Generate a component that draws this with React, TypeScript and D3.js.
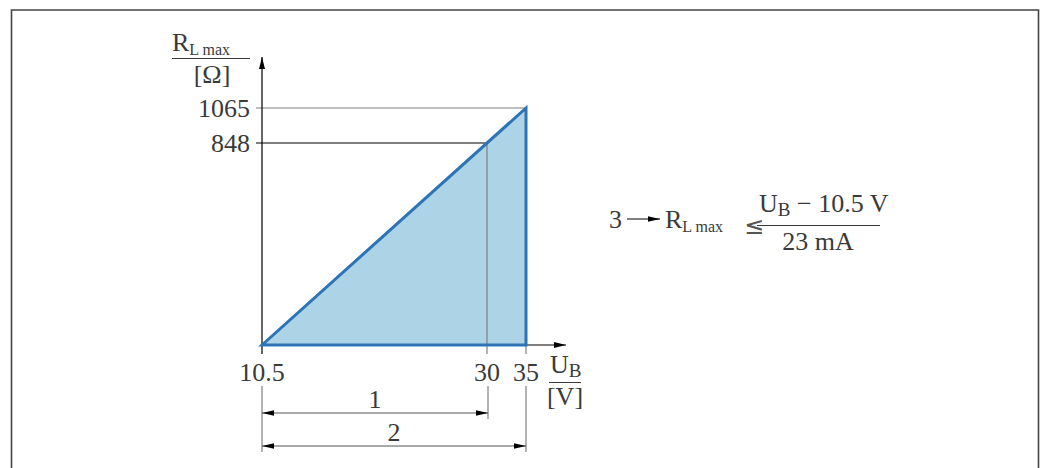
import { useRef, useEffect } from "react"
import * as d3 from "d3"

// schematic axis stops (the drawing is not to scale, so the scales are piecewise)
const uStops = [10.5, 30, 35]
const rStops = [0, 848, 1065]
const xTicks = ["10.5", "30", "35"]
const yTicks = ["848", "1065"]

// load line: R_L max grows from 0 at 10.5 V to 1065 Ω at 35 V
const loadLine = [
  { u: 10.5, r: 0 },
  { u: 35, r: 1065 },
  { u: 35, r: 0 },
]

// dimension arrows under the axis
const dims = [
  { label: "1", from: 10.5, to: 30 },
  { label: "2", from: 10.5, to: 35 },
]

const FONT = "'Liberation Serif', serif"
const TEXT = "#3a3a3a"
const BIG = "26px"
const SUB = "16px"

const App = () => {
  const svgRef = useRef<SVGSVGElement>(null)

  useEffect(() => {
    const svg = d3.select(svgRef.current)
    svg.selectAll("*").remove()

    const x = d3.scaleLinear().domain(uStops).range([262, 487, 526])
    const y = d3.scaleLinear().domain(rStops).range([345, 143, 108])

    // arrow markers
    const defs = svg.append("defs")
    defs
      .append("marker")
      .attr("id", "axisHead")
      .attr("viewBox", "0 0 12 8")
      .attr("refX", 12)
      .attr("refY", 4)
      .attr("markerWidth", 12)
      .attr("markerHeight", 8)
      .attr("markerUnits", "userSpaceOnUse")
      .attr("orient", "auto")
      .append("path")
      .attr("d", "M0,1 L12,4 L0,7 Z")
      .attr("fill", "#000")
    defs
      .append("marker")
      .attr("id", "dimHead")
      .attr("viewBox", "0 0 12 8")
      .attr("refX", 12)
      .attr("refY", 4)
      .attr("markerWidth", 12)
      .attr("markerHeight", 8)
      .attr("markerUnits", "userSpaceOnUse")
      .attr("orient", "auto-start-reverse")
      .append("path")
      .attr("d", "M0,1.2 L12,4 L0,6.8 Z")
      .attr("fill", "#000")

    // frame
    svg
      .append("path")
      .attr("d", "M11.5,480 V10 H1038.5 V480")
      .attr("fill", "none")
      .attr("stroke", "#444")
      .attr("stroke-width", 1.6)

    // filled area
    const area = d3
      .line<{ u: number; r: number }>()
      .x((d) => x(d.u))
      .y((d) => y(d.r))
    svg
      .append("path")
      .attr("d", area(loadLine) + "Z")
      .attr("fill", "#acd3e6")
      .attr("stroke", "none")

    // reference lines
    svg
      .append("line")
      .attr("x1", 256)
      .attr("x2", x(35))
      .attr("y1", y(1065))
      .attr("y2", y(1065))
      .attr("stroke", "#808080")
      .attr("stroke-width", 1.2)
    svg
      .append("line")
      .attr("x1", 256)
      .attr("x2", x(30))
      .attr("y1", y(848))
      .attr("y2", y(848))
      .attr("stroke", "#000")
      .attr("stroke-width", 1.2)
    svg
      .append("line")
      .attr("x1", x(30))
      .attr("x2", x(30))
      .attr("y1", y(848))
      .attr("y2", 354)
      .attr("stroke", "#808080")
      .attr("stroke-width", 1.2)

    // axes
    svg
      .append("line")
      .attr("x1", x(10.5))
      .attr("x2", x(10.5))
      .attr("y1", 354)
      .attr("y2", 57)
      .attr("stroke", "#000")
      .attr("stroke-width", 1.2)
      .attr("marker-end", "url(#axisHead)")
    svg
      .append("line")
      .attr("x1", x(10.5))
      .attr("x2", 566)
      .attr("y1", y(0))
      .attr("y2", y(0))
      .attr("stroke", "#000")
      .attr("stroke-width", 1.2)
      .attr("marker-end", "url(#axisHead)")
    svg
      .append("line")
      .attr("x1", x(35))
      .attr("x2", x(35))
      .attr("y1", y(0))
      .attr("y2", 354)
      .attr("stroke", "#808080")
      .attr("stroke-width", 1.2)

    // outline of the area
    svg
      .append("path")
      .attr("d", area(loadLine) + "Z")
      .attr("fill", "none")
      .attr("stroke", "#2c74b5")
      .attr("stroke-width", 3)
      .attr("stroke-linejoin", "miter")

    // tick labels
    svg
      .selectAll(".ylab")
      .data(yTicks)
      .enter()
      .append("text")
      .attr("x", 250)
      .attr("y", (d) => y(+d))
      .attr("dy", "0.34em")
      .attr("text-anchor", "end")
      .style("font-family", FONT)
      .style("font-size", BIG)
      .style("fill", TEXT)
      .text((d) => d)
    svg
      .selectAll(".xlab")
      .data(xTicks)
      .enter()
      .append("text")
      .attr("x", (d) => x(+d))
      .attr("y", 381)
      .attr("text-anchor", "middle")
      .style("font-family", FONT)
      .style("font-size", BIG)
      .style("fill", TEXT)
      .text((d) => d)

    // y axis title R_L max / [Ω]
    const yt = svg
      .append("text")
      .attr("x", 172)
      .attr("y", 51)
      .style("font-family", FONT)
      .style("fill", TEXT)
    yt.append("tspan").style("font-size", BIG).text("R")
    yt.append("tspan").attr("dy", 4).style("font-size", SUB).text("L max")
    svg
      .append("line")
      .attr("x1", 172)
      .attr("x2", 250)
      .attr("y1", 58.5)
      .attr("y2", 58.5)
      .attr("stroke", TEXT)
      .attr("stroke-width", 1)
    svg
      .append("text")
      .attr("x", 212)
      .attr("y", 83)
      .attr("text-anchor", "middle")
      .style("font-family", FONT)
      .style("font-size", BIG)
      .style("fill", TEXT)
      .text("[Ω]")

    // x axis title U_B / [V]
    const xt = svg
      .append("text")
      .attr("x", 550)
      .attr("y", 373)
      .style("font-family", FONT)
      .style("fill", TEXT)
    xt.append("tspan").style("font-size", BIG).text("U")
    xt.append("tspan").attr("dy", 4).style("font-size", "19px").text("B")
    svg
      .append("line")
      .attr("x1", 549)
      .attr("x2", 581)
      .attr("y1", 382.5)
      .attr("y2", 382.5)
      .attr("stroke", TEXT)
      .attr("stroke-width", 1)
    svg
      .append("text")
      .attr("x", 565)
      .attr("y", 405)
      .attr("text-anchor", "middle")
      .style("font-family", FONT)
      .style("font-size", BIG)
      .style("fill", TEXT)
      .text("[V]")

    // dimension lines
    const extTop = 386
    const dimY = [413, 446]
    svg
      .selectAll(".ext")
      .data([
        { u: 10.5, y2: 452 },
        { u: 30, y2: 419 },
        { u: 35, y2: 452 },
      ])
      .enter()
      .append("line")
      .attr("x1", (d) => x(d.u) + (d.u === 30 ? 1 : 0))
      .attr("x2", (d) => x(d.u) + (d.u === 30 ? 1 : 0))
      .attr("y1", extTop)
      .attr("y2", (d) => d.y2)
      .attr("stroke", "#808080")
      .attr("stroke-width", 1.2)
    dims.forEach((d, i) => {
      const x1 = x(d.from)
      const x2 = x(d.to) + (d.to === 30 ? 1 : 0)
      svg
        .append("line")
        .attr("x1", x1)
        .attr("x2", x2)
        .attr("y1", dimY[i])
        .attr("y2", dimY[i])
        .attr("stroke", "#555")
        .attr("stroke-width", 1.2)
        .attr("marker-start", "url(#dimHead)")
        .attr("marker-end", "url(#dimHead)")
      svg
        .append("text")
        .attr("x", (x1 + x2) / 2)
        .attr("y", dimY[i] - 5)
        .attr("text-anchor", "middle")
        .style("font-family", FONT)
        .style("font-size", BIG)
        .style("fill", TEXT)
        .text(d.label)
    })

    // formula callout
    svg
      .append("text")
      .attr("x", 609)
      .attr("y", 228)
      .style("font-family", FONT)
      .style("font-size", BIG)
      .style("fill", TEXT)
      .text("3")
    svg
      .append("line")
      .attr("x1", 627)
      .attr("x2", 660)
      .attr("y1", 219)
      .attr("y2", 219)
      .attr("stroke", "#000")
      .attr("stroke-width", 1.2)
      .attr("marker-end", "url(#dimHead)")
    const rl = svg
      .append("text")
      .attr("x", 665)
      .attr("y", 228)
      .style("font-family", FONT)
      .style("fill", TEXT)
    rl.append("tspan").style("font-size", BIG).text("R")
    rl.append("tspan").attr("dy", 4).style("font-size", SUB).text("L max")
    svg
      .append("text")
      .attr("x", 744)
      .attr("y", 234)
      .style("font-family", "'DejaVu Sans', sans-serif")
      .style("font-size", "24px")
      .style("fill", "#555")
      .text("≤")
    svg
      .append("line")
      .attr("x1", 757)
      .attr("x2", 880)
      .attr("y1", 225.5)
      .attr("y2", 225.5)
      .attr("stroke", TEXT)
      .attr("stroke-width", 1)
    const num = svg
      .append("text")
      .attr("x", 759)
      .attr("y", 212)
      .style("font-family", FONT)
      .style("fill", TEXT)
    num.append("tspan").style("font-size", BIG).text("U")
    num.append("tspan").attr("dy", 4).style("font-size", "19px").text("B")
    num.append("tspan").attr("dy", -4).style("font-size", BIG).text(" − 10.5 V")
    svg
      .append("text")
      .attr("x", 818)
      .attr("y", 250)
      .attr("text-anchor", "middle")
      .style("font-family", FONT)
      .style("font-size", BIG)
      .style("fill", TEXT)
      .text("23 mA")
  }, [])

  return (
    <svg
      ref={svgRef}
      width={1045}
      height={468}
      style={{ position: "absolute", left: 0, top: 0, background: "#fff" }}
    ></svg>
  )
}

export default App
